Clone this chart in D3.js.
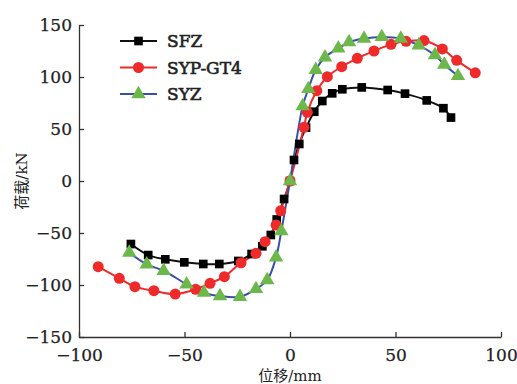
<!DOCTYPE html>
<html>
<head>
<meta charset="utf-8">
<script src="https://cdn.jsdelivr.net/npm/d3@7"></script>
<style>
  body { margin: 0; background: #fff; }
  svg { display: block; }
</style>
</head>
<body>
<div id="chart"></div>
<script>
// displacement (mm) / load (kN)
const sfzX = [-75.4, -67.2, -59.1, -50.1, -41.1, -33.5, -24.5, -18.2, -13.1, -9.1, -6.3, -2.8, 0, 1.9, 4.4, 7.6, 11.5, 15.3, 20.0, 24.8, 34.0, 46.3, 54.5, 64.8, 72.7, 76.3];
const sfzY = [-60.6, -71.2, -75.3, -78.2, -79.8, -79.8, -76.9, -70.2, -62.8, -51.9, -37, -17.3, 0, 20.2, 35.6, 51.3, 66.6, 76.9, 84.3, 88.2, 90.0, 87.5, 84.0, 77.5, 70.0, 61.0];

const sypX = [-90.9, -80.9, -73.5, -64.5, -54.4, -44.7, -37.9, -31.1, -23.2, -16.1, -11.8, -6.6, -4.4, 0, 6.6, 8.2, 12.7, 17.7, 24.5, 31.9, 39.8, 47.9, 55.0, 63.5, 72.2, 79.0, 87.8];
const sypY = [-82.4, -93.6, -101.6, -105.5, -108.7, -104.1, -98.4, -92.0, -78.6, -69.5, -58.4, -42.3, -28.6, 0, 51.6, 66.1, 86.8, 100.3, 109.9, 118.0, 125.0, 131.4, 134.3, 135.0, 127.0, 116.0, 104.0];

const syzX = [-76.2, -67.9, -59.9, -49.0, -40.8, -33.2, -23.7, -16.1, -10.8, -6.6, -4.1, 0, 6.0, 8.7, 12.2, 16.6, 22.9, 28.0, 35.1, 43.5, 52.5, 61.0, 68.7, 73.1, 79.6];
const syzY = [-68.9, -80.1, -86.3, -99.3, -107.4, -110.6, -111.3, -103.8, -95.2, -73.4, -48.1, 0, 72.0, 88.5, 107.0, 119.0, 127.5, 133.5, 137.0, 138.5, 137.0, 130.5, 121.0, 112.0, 101.0];

const seriesNames = ["SFZ", "SYP-GT4", "SYZ"];
const xTicks = [-100, -50, 0, 50, 100];
const yTicks = [-150, -100, -50, 0, 50, 100, 150];

const width = 517, height = 384;
const margin = { top: 25, right: 16, bottom: 47, left: 79 };
const fontNum = "'DejaVu Serif', 'Liberation Serif', serif";
const fontCjk = "'DejaVu Serif', 'Noto Sans CJK SC', serif";

const svg = d3.select("#chart")
  .append("svg")
  .attr("width", width)
  .attr("height", height);

const x = d3.scaleLinear().domain([-100, 100]).range([margin.left, width - margin.right]);
const y = d3.scaleLinear().domain([-150, 150]).range([height - margin.bottom, margin.top]);

// axes, ticks point inward
const xAxis = svg.append("g")
  .attr("transform", `translate(0,${y(-150)})`)
  .call(d3.axisBottom(x).tickValues(xTicks).tickSizeInner(-5).tickSizeOuter(0).tickPadding(12)
    .tickFormat(d => d < 0 ? "\u2212" + Math.abs(d) : d));

const yAxis = svg.append("g")
  .attr("transform", `translate(${x(-100)},0)`)
  .call(d3.axisLeft(y).tickValues(yTicks).tickSizeInner(-5).tickSizeOuter(0).tickPadding(7)
    .tickFormat(d => d < 0 ? "\u2212" + Math.abs(d) : d));

[xAxis, yAxis].forEach(g => {
  g.select(".domain").attr("stroke", "#333").attr("stroke-width", 1.3);
  g.selectAll(".tick line").attr("stroke", "#333").attr("stroke-width", 1.3);
  g.selectAll("text")
    .attr("fill", "#222")
    .attr("stroke", "#222")
    .attr("stroke-width", 0.25)
    .style("font-family", fontNum)
    .style("font-size", "17px");
});

// axis titles
svg.append("text")
  .attr("x", x(0))
  .attr("y", 381)
  .attr("text-anchor", "middle")
  .attr("fill", "#222")
  .style("font-family", fontCjk)
  .style("font-size", "15px")
  .text("位移/mm");

svg.append("text")
  .attr("transform", `translate(27,${y(0)}) rotate(-90)`)
  .attr("text-anchor", "middle")
  .attr("fill", "#222")
  .style("font-family", fontCjk)
  .style("font-size", "15px")
  .text("荷载/kN");

const series = [
  { name: seriesNames[0], xs: sfzX, ys: sfzY, line: "#111", fill: "#000", shape: d3.symbolSquare, size: 75 },
  { name: seriesNames[1], xs: sypX, ys: sypY, line: "#ee2a2a", fill: "#ee2a2a", shape: d3.symbolCircle, size: 95 },
  { name: seriesNames[2], xs: syzX, ys: syzY, line: "#3a50a8", fill: "#6cb84a", shape: d3.symbolTriangle, size: 90 }
];

const line = d3.line()
  .x(d => x(d[0]))
  .y(d => y(d[1]))
  .curve(d3.curveCatmullRom.alpha(0.5));

series.forEach(s => {
  const pts = s.xs.map((v, i) => [v, s.ys[i]]);
  svg.append("path")
    .datum(pts)
    .attr("fill", "none")
    .attr("stroke", s.line)
    .attr("stroke-width", 2)
    .attr("d", line);
});

series.forEach(s => {
  const pts = s.xs.map((v, i) => [v, s.ys[i]]);
  svg.append("g")
    .selectAll("path")
    .data(pts)
    .enter().append("path")
    .attr("transform", d => `translate(${x(d[0])},${y(d[1])})`)
    .attr("d", d3.symbol().type(s.shape).size(s.size))
    .attr("fill", s.fill);
});

// legend
const legend = svg.append("g").attr("transform", "translate(120,41)");
series.forEach((s, i) => {
  const row = legend.append("g").attr("transform", `translate(0,${i * 26.5})`);
  row.append("line")
    .attr("x1", 0).attr("x2", 37)
    .attr("stroke", s.line)
    .attr("stroke-width", 2);
  row.append("path")
    .attr("transform", "translate(18.5,0)")
    .attr("d", d3.symbol().type(s.shape).size(s.size))
    .attr("fill", s.fill);
  row.append("text")
    .attr("x", 47)
    .attr("dy", "0.36em")
    .attr("fill", "#222")
    .attr("stroke", "#222")
    .attr("stroke-width", 0.6)
    .style("font-family", fontNum)
    .style("font-size", "17px")
    .text(s.name);
});
</script>
</body>
</html>
